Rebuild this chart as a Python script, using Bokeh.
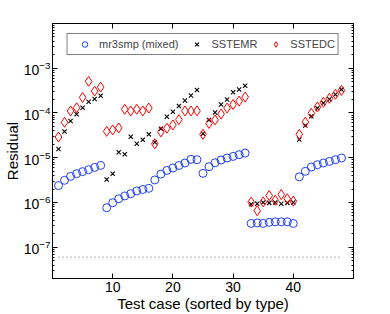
import numpy as np
from bokeh.plotting import figure
from bokeh.models import (Range1d, FixedTicker, LinearAxis, LogAxis, Legend, LegendItem,
                          CustomJSTickFormatter)
from bokeh.embed import file_html
from bokeh.resources import INLINE

test_case = list(range(1, 49))

mr3smp = [2.39e-6, 3.13e-6, 3.84e-6, 4.41e-6, 4.89e-6, 5.41e-6, 6.08e-6, 6.74e-6,
          7.62e-7, 9.85e-7, 1.21e-6, 1.40e-6, 1.57e-6, 1.81e-6, 1.95e-6, 2.07e-6,
          3.19e-6, 4.30e-6, 5.20e-6, 5.90e-6, 6.71e-6, 7.62e-6, 9.21e-6, 9.03e-6,
          4.48e-6, 6.31e-6, 7.74e-6, 8.89e-6, 9.85e-6, 1.07e-5, 1.17e-5, 1.27e-5,
          3.4e-7, 3.5e-7, 3.4e-7, 3.6e-7, 3.7e-7, 3.7e-7, 3.7e-7, 3.4e-7,
          3.74e-6, 4.97e-6, 6.21e-6, 6.99e-6, 7.62e-6, 8.28e-6, 9.03e-6, 9.85e-6]

sstemr = [1.56e-5, 3.85e-5, 6.6e-5, 9.4e-5, 1.31e-4, 1.78e-4, 2.05e-4, 2.43e-4,
          3.25e-6, 4.41e-6, 1.33e-5, 1.20e-5, 2.93e-5, 2.05e-5, 2.51e-5, 3.33e-5,
          2.21e-5, 4.46e-5, 8.28e-5, 1.07e-4, 1.43e-4, 1.91e-4, 2.45e-4, 3.25e-4,
          3.42e-5, 6.99e-5, 1.03e-4, 1.55e-4, 2.01e-4, 2.90e-4, 3.36e-4, 4.08e-4,
          9.1e-7, 9.4e-7, 1.0e-6, 9.8e-7, 1.0e-6, 9.4e-7, 9.8e-7, 1.0e-6,
          2.55e-5, 5.28e-5, 8.45e-5, 1.27e-4, 1.67e-4, 2.03e-4, 2.58e-4, 3.33e-4]

sstedc = [2.9e-5, 6.2e-5, 1.11e-4, 1.31e-4, 2.23e-4, 5.1e-4, 3.08e-4, 3.8e-4,
          3.88e-5, 4.19e-5, 4.64e-5, 1.21e-4, 1.11e-4, 1.21e-4, 1.11e-4, 1.29e-4,
          2.05e-5, 3.78e-5, 4.57e-5, 5.41e-5, 7.10e-5, 1.11e-4, 1.11e-4, 1.11e-4,
          3.33e-5, 5.85e-5, 6.99e-5, 9.5e-5, 1.29e-4, 1.55e-4, 1.85e-4, 2.27e-4,
          1.02e-6, 6.54e-7, 1.03e-6, 1.43e-6, 1.12e-6, 1.51e-6, 1.21e-6, 1.07e-6,
          3.33e-5, 6.25e-5, 9.84e-5, 1.36e-4, 1.74e-4, 2.13e-4, 2.62e-4, 3.19e-4]

threshold_x = [1, 48]
threshold_y = [6e-8, 6e-8]

x_ticks = [10, 20, 30, 40]
y_ticks = [1e-7, 1e-6, 1e-5, 1e-4, 1e-3]
y_minor = [m * 10.0 ** e for e in range(-8, -2) for m in range(2, 10)]

FONT = "Liberation Sans"

p = figure(width=390, height=314, x_range=Range1d(0, 50), y_range=Range1d(2e-8, 1e-2),
           y_axis_type="log", output_backend="svg", toolbar_location=None,
           min_border_left=51, min_border_right=37, min_border_top=23, min_border_bottom=36,
           background_fill_color="white", border_fill_color="white")
p.grid.visible = False
p.outline_line_color = "black"
p.outline_line_alpha = 1.0

def style_axis(ax):
    ax.axis_line_color = "black"
    ax.major_tick_line_color = "black"
    ax.minor_tick_line_color = "black"
    ax.major_tick_in = 5
    ax.major_tick_out = 0
    ax.minor_tick_in = 2
    ax.minor_tick_out = 0
    ax.major_label_text_font = FONT
    ax.major_label_text_font_size = "14px"
    ax.major_label_text_color = "black"
    ax.axis_label_text_font = FONT
    ax.axis_label_text_font_size = "15px"
    ax.axis_label_text_font_style = "normal"
    ax.axis_label_text_color = "black"

xax = p.xaxis[0]
style_axis(xax)
xax.ticker = FixedTicker(ticks=x_ticks, minor_ticks=[])
xax.axis_label = "Test case (sorted by type)"
xax.major_label_standoff = 3
xax.axis_label_standoff = 0

yax = p.yaxis[0]
style_axis(yax)
yax.ticker = FixedTicker(ticks=y_ticks, minor_ticks=y_minor)
yax.axis_label = "Residual"
yax.major_label_standoff = 2
yax.axis_label_standoff = 0

blank = CustomJSTickFormatter(code="return ''")

top = LinearAxis(ticker=FixedTicker(ticks=x_ticks, minor_ticks=[]), formatter=blank)
style_axis(top)
top.major_label_standoff = 0
p.add_layout(top, "above")

right = LogAxis(ticker=FixedTicker(ticks=y_ticks, minor_ticks=y_minor), formatter=blank)
style_axis(right)
right.major_label_standoff = 0
p.add_layout(right, "right")

p.line(threshold_x, threshold_y, line_color="#666666", line_width=1, line_dash="1 3")

r1 = p.scatter(test_case, mr3smp, marker="circle", size=8, fill_color=None,
               line_color="#1f3fff", line_width=1)
r2 = p.scatter(test_case, sstemr, marker="x", size=6, line_color="black", line_width=1.1)
r3 = p.scatter(test_case, sstedc, marker="diamond", size=10, fill_color=None,
               line_color="red", line_width=1)

legend = Legend(items=[LegendItem(label="mr3smp (mixed)", renderers=[r1]),
                       LegendItem(label="SSTEMR", renderers=[r2]),
                       LegendItem(label="SSTEDC", renderers=[r3])],
                orientation="horizontal", location="top_center", margin=10,
                padding=3, spacing=4, glyph_width=28, glyph_height=14,
                label_height=14, label_standoff=1,
                label_text_font=FONT, label_text_font_size="11px",
                border_line_color="black", border_line_width=1,
                background_fill_color="white", background_fill_alpha=1.0)
p.add_layout(legend)

open("out.html", "w").write(file_html(p, INLINE))
